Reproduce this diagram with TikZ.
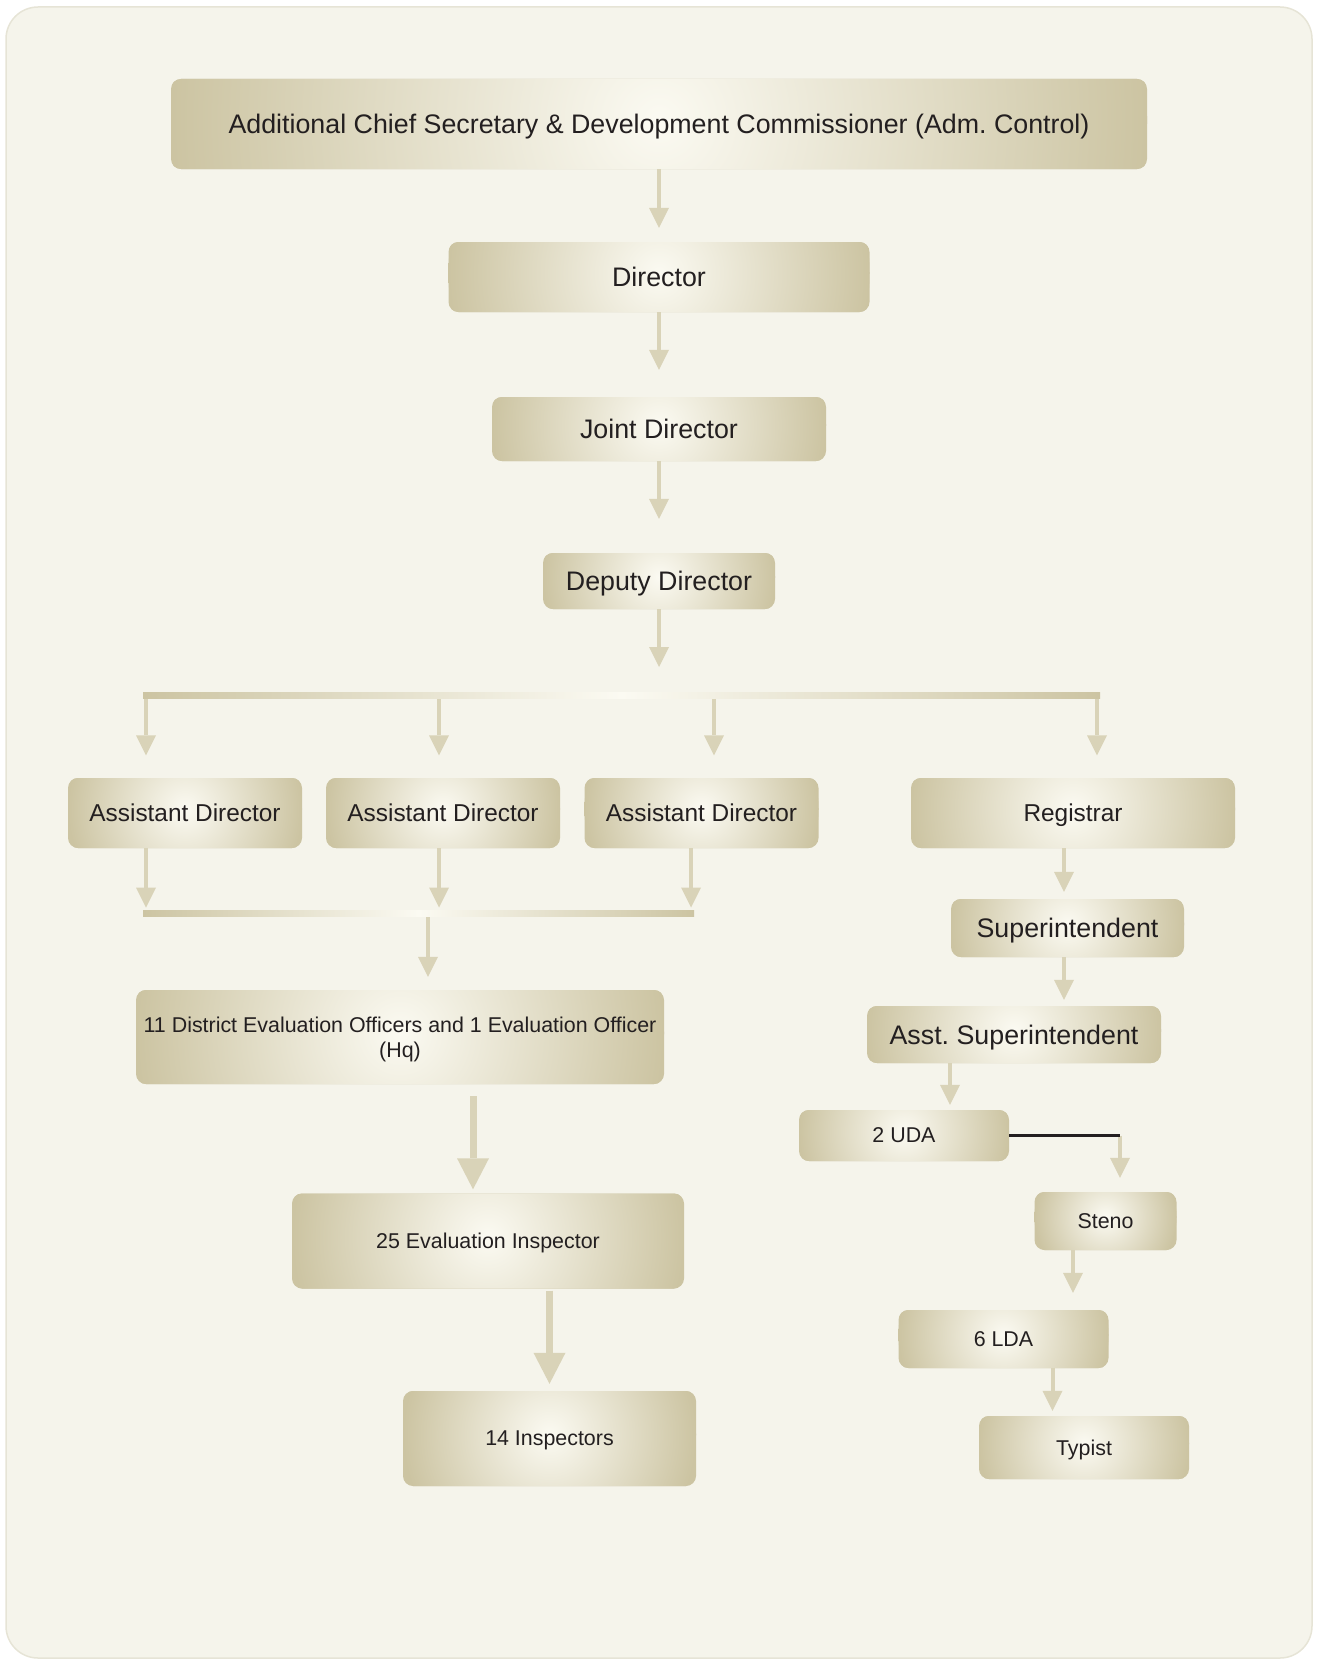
\documentclass[tikz,border=0pt]{standalone}
\usepackage{fontspec}
\setmainfont{Liberation Sans}
\usetikzlibrary{arrows.meta,calc}
\frenchspacing
\definecolor{bund}{RGB}{245,244,235}
\definecolor{kant}{RGB}{230,228,214}
\definecolor{boksud}{RGB}{204,196,162}
\definecolor{boksind}{RGB}{251,250,242}
\definecolor{pilfarve}{RGB}{217,211,184}
\definecolor{tekst}{RGB}{35,31,32}
\tikzset{
    % Define arrow styles
    pil/.style={
           draw=pilfarve,
           line width=4pt,
           -{Triangle[width=20pt,length=20pt,line width=0pt]}},
    storpil/.style={
           draw=pilfarve,
           line width=7pt,
           -{Triangle[width=32pt,length=31pt,line width=0pt]}},
    % Define box style
    boks/.style={
           rounded corners=10pt,
           fill=boksud,
           text=tekst,
           inner sep=0pt,
           text depth=0pt,
           align=center,
           path picture={
               \shade[inner color=boksind, outer color=boksud]
                   let \p1=(path picture bounding box.east),
                       \p2=(path picture bounding box.center) in
                   (\x2,{\y2+4pt}) circle ({\x1-\x2});
           }},
    stor/.style={font=\fontsize{26.8}{32}\selectfont},
    mellem/.style={font=\fontsize{24.4}{29}\selectfont},
    lille/.style={font=\fontsize{21.4}{25.5}\selectfont},
    bus/.style={left color=boksud, right color=boksud, middle color=boksind}
}

\begin{document}
\begin{tikzpicture}[x=1pt, y=-1pt]
\useasboundingbox (0,0) rectangle (1317,1659);
\filldraw[fill=bund, draw=kant, line width=1.5pt, rounded corners=32pt] (6,7) rectangle (1312,1658);

% main chain
\node[boks, stor, minimum width=976pt, minimum height=90pt] (acs) at (659,124) {Additional Chief Secretary \& Development Commissioner (Adm. Control)};
\node[boks, stor, minimum width=421pt, minimum height=70pt] (dir) at (659,277) {Director};
\node[boks, stor, minimum width=334pt, minimum height=64pt] (jd) at (659,429) {Joint Director};
\node[boks, stor, minimum width=232pt, minimum height=56pt] (dd) at (659,581) {Deputy Director};

\node[boks, mellem, minimum width=234pt, minimum height=70pt] (ad1) at (185,813) {Assistant Director};
\node[boks, mellem, minimum width=234pt, minimum height=70pt] (ad2) at (443,813) {Assistant Director};
\node[boks, mellem, minimum width=234pt, minimum height=70pt] (ad3) at (701.5,813) {Assistant Director};
\node[boks, mellem, minimum width=324pt, minimum height=70pt] (reg) at (1073,813) {Registrar};

% left branch
\node[boks, lille, minimum width=528pt, minimum height=94pt] (deo) at (400,1037) {11 District Evaluation Officers and 1 Evaluation Officer\\(Hq)};
\node[boks, lille, minimum width=392pt, minimum height=95pt] (ei) at (488,1241) {25 Evaluation Inspector};
\node[boks, lille, minimum width=293pt, minimum height=95pt] (insp) at (549.5,1438.5) {14 Inspectors};

% right branch
\node[boks, stor, minimum width=233pt, minimum height=58pt] (sup) at (1067.5,928) {Superintendent};
\node[boks, stor, minimum width=294pt, minimum height=57pt] (asup) at (1014,1034.5) {Asst. Superintendent};
\node[boks, lille, minimum width=210pt, minimum height=51pt] (uda) at (904,1135.5) {2 UDA};
\node[boks, lille, minimum width=142pt, minimum height=58pt] (steno) at (1105.5,1221) {Steno};
\node[boks, lille, minimum width=210pt, minimum height=58pt] (lda) at (1003.5,1339) {6 LDA};
\node[boks, lille, minimum width=210pt, minimum height=63pt] (typ) at (1084,1447.5) {Typist};

% bus points
\coordinate (ob1) at (146,695);
\coordinate (ob2) at (439,695);
\coordinate (ob3) at (714,695);
\coordinate (ob4) at (1097,695);
\coordinate (nb1) at (146,913);
\coordinate (nb2) at (439,913);
\coordinate (nb3) at (691,913);
\coordinate (nb0) at (428,913);
\coordinate (xr) at (1064,0);
\coordinate (xu) at (950,0);
\coordinate (xs) at (1120,0);
\coordinate (xl) at (1073,0);
\coordinate (xt) at (1052.5,0);
\coordinate (xd) at (473,0);

\draw[pil, shorten >=14pt] (acs) -- (dir);
\draw[pil, shorten >=27pt] (dir) -- (jd);
\draw[pil, shorten >=34pt] (jd) -- (dd);
\draw[pil, shorten >=28pt] (dd) -- (dd |- ob1);

\draw[pil, shorten >=22.5pt] (ob1) -- (ob1 |- ad1.north);
\draw[pil, shorten >=22.5pt] (ob2) -- (ob2 |- ad2.north);
\draw[pil, shorten >=22.5pt] (ob3) -- (ob3 |- ad3.north);
\draw[pil, shorten >=22.5pt] (ob4) -- (ob4 |- reg.north);

\draw[pil, shorten >=5.5pt] (ad1.south -| nb1) -- (nb1);
\draw[pil, shorten >=5.5pt] (ad2.south -| nb2) -- (nb2);
\draw[pil, shorten >=5.5pt] (ad3.south -| nb3) -- (nb3);
\draw[pil, shorten >=13pt] (nb0) -- (nb0 |- deo.north);

\shade[bus] ($(ob1)+(-3,-3)$) rectangle ($(ob4)+(3,3)$);
\shade[bus] ($(nb1)+(-3,-3)$) rectangle ($(nb3)+(3,3)$);

\draw[storpil, shorten <=12pt, shorten >=4pt] (deo.south -| xd) -- (ei.north -| xd);
\draw[storpil, shorten <=2pt, shorten >=7pt] (ei.south -| insp) -- (insp);

\draw[pil, shorten >=7pt] (reg.south -| xr) -- (sup.north -| xr);
\draw[pil, shorten >=6pt] (sup.south -| xr) -- (asup.north -| xr);
\draw[pil, shorten >=5pt] (asup.south -| xu) -- (uda.north -| xu);
\draw[pil, shorten >=14pt] (uda.east -| xs) -- (steno.north -| xs);
\draw[line width=2.3pt, tekst] (uda.east) -- (uda.east -| xs);
\draw[pil, shorten >=17pt] (steno.south -| xl) -- (lda.north -| xl);
\draw[pil, shorten >=5pt] (lda.south -| xt) -- (typ.north -| xt);
\end{tikzpicture}
\end{document}
